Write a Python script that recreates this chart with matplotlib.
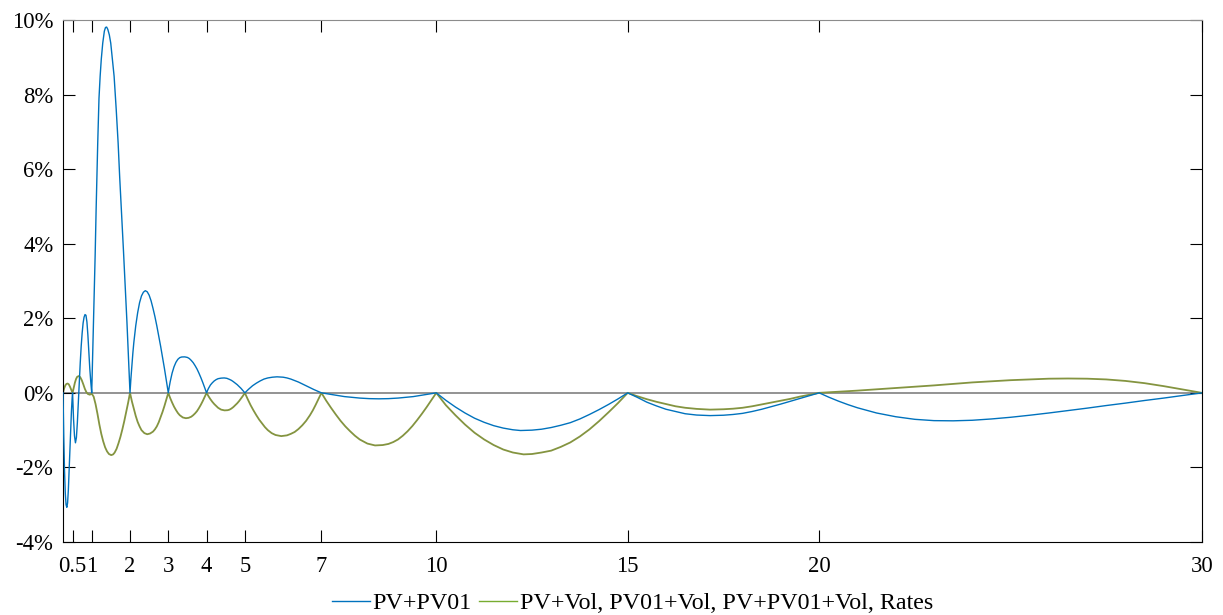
import numpy as np
import matplotlib
matplotlib.use("Agg")
import matplotlib.pyplot as plt
from matplotlib.lines import Line2D

# curve pillars (years) shown on the x axis
tick_years = [0.5, 1, 2, 3, 4, 5, 7, 10, 15, 20, 30]
tick_labels = ["0.5", "1", "2", "3", "4", "5", "7", "10", "15", "20", "30"]
pct_ticks = [-4, -2, 0, 2, 4, 6, 8, 10]
pct_labels = ["-4%", "-2%", "0%", "2%", "4%", "6%", "8%", "10%"]

# PV+PV01 error (%)
pv01_x = [0.25, 0.27, 0.29, 0.31, 0.33, 0.35, 0.37, 0.39, 0.41, 0.43, 0.45, 0.47, 0.49,
          0.5, 0.525, 0.55, 0.575, 0.6, 0.625, 0.65, 0.675, 0.7, 0.725, 0.75, 0.775, 0.8,
          0.825, 0.85, 0.875, 0.9, 0.925, 0.95, 0.975,
          1.0, 1.03, 1.05, 1.07, 1.09, 1.115, 1.157, 1.19, 1.22, 1.25, 1.288, 1.33, 1.36,
          1.39, 1.42, 1.46, 1.497, 1.54, 1.585, 1.64, 1.69, 1.73, 1.775, 1.83, 1.88, 1.92, 1.96,
          2.0, 2.025, 2.05, 2.075, 2.1, 2.15, 2.2, 2.25, 2.3, 2.35, 2.4, 2.45, 2.5, 2.55, 2.6,
          2.65, 2.7, 2.75, 2.8, 2.85, 2.9, 2.95,
          3.0, 3.025, 3.05, 3.075, 3.1, 3.15, 3.2, 3.25, 3.3, 3.35, 3.43, 3.5, 3.55, 3.6, 3.65,
          3.7, 3.75, 3.8, 3.85, 3.9, 3.95,
          4.0, 4.025, 4.05, 4.1, 4.15, 4.2, 4.25, 4.3, 4.38, 4.46, 4.53, 4.6, 4.65, 4.7, 4.75,
          4.8, 4.85, 4.9, 4.95,
          5.0, 5.05, 5.1, 5.2, 5.3, 5.4, 5.5, 5.6, 5.72, 5.84, 6.0, 6.1, 6.2, 6.3, 6.4, 6.5,
          6.6, 6.7, 6.8, 6.9,
          7.0, 7.15, 7.3, 7.45, 7.6, 7.8, 8.0, 8.25, 8.5, 8.75, 9.0, 9.2, 9.4, 9.55, 9.7, 9.85,
          10.0, 10.25, 10.5, 10.75, 11.0, 11.25, 11.5, 11.75, 12.0, 12.2, 12.5, 12.75, 13.0,
          13.25, 13.5, 13.75, 14.0, 14.25, 14.5, 14.75,
          15.0, 15.25, 15.5, 15.75, 16.0, 16.25, 16.5, 16.8, 17.15, 17.5, 17.75, 18.0, 18.25,
          18.5, 18.75, 19.0, 19.25, 19.5, 19.75,
          20.0, 20.25, 20.5, 20.75, 21.0, 21.5, 22.0, 22.5, 23.0, 23.5, 24.0, 24.5, 25.0, 25.5,
          26.0, 26.5, 27.0, 27.5, 28.0, 28.5, 29.0, 29.5, 30.0]
pv01_y = [0, -1.2, -2.1, -2.7, -3.0, -3.07, -2.95, -2.6, -2.1, -1.55, -1.0, -0.5, -0.12,
          0, -0.7, -1.15, -1.34, -1.2, -0.8, -0.25, 0.3, 0.8, 1.25, 1.6, 1.87, 2.03,
          2.1, 2.08, 1.9, 1.55, 1.1, 0.65, 0.3,
          0, 1.2, 2.0, 2.77, 3.7, 4.91, 6.7, 7.9, 8.49, 8.95, 9.38, 9.7, 9.8,
          9.81, 9.75, 9.6, 9.38, 8.95, 8.49, 7.6, 6.7, 5.8, 4.91, 3.8, 2.77, 1.9, 0.95,
          0, 0.4, 0.75, 1.07, 1.35, 1.8, 2.15, 2.42, 2.6, 2.7, 2.74, 2.71, 2.62, 2.47, 2.27,
          2.05, 1.8, 1.53, 1.25, 0.95, 0.65, 0.33,
          0, 0.16, 0.3, 0.42, 0.53, 0.7, 0.82, 0.9, 0.945, 0.962, 0.965, 0.95, 0.92, 0.87, 0.81,
          0.73, 0.64, 0.53, 0.41, 0.28, 0.14,
          0, 0.065, 0.12, 0.21, 0.27, 0.32, 0.355, 0.38, 0.395, 0.40, 0.39, 0.36, 0.335, 0.30,
          0.26, 0.22, 0.17, 0.12, 0.06,
          0, 0.05, 0.1, 0.19, 0.26, 0.32, 0.37, 0.40, 0.42, 0.43, 0.42, 0.40, 0.37, 0.33, 0.29,
          0.24, 0.19, 0.14, 0.09, 0.045,
          0, -0.025, -0.05, -0.075, -0.10, -0.12, -0.14, -0.155, -0.16, -0.155, -0.14, -0.12,
          -0.10, -0.075, -0.05, -0.025,
          0, -0.2, -0.38, -0.54, -0.68, -0.79, -0.88, -0.945, -0.99, -1.01, -1.0, -0.975, -0.93,
          -0.87, -0.8, -0.7, -0.58, -0.45, -0.31, -0.16,
          0, -0.12, -0.25, -0.35, -0.44, -0.5, -0.56, -0.595, -0.61, -0.6, -0.58, -0.55, -0.5,
          -0.44, -0.37, -0.3, -0.225, -0.15, -0.075,
          0, -0.115, -0.22, -0.315, -0.4, -0.54, -0.64, -0.71, -0.745, -0.75, -0.735, -0.7,
          -0.655, -0.6, -0.54, -0.475, -0.41, -0.34, -0.275, -0.205, -0.14, -0.07, 0]

# PV+Vol, PV01+Vol, PV+PV01+Vol, Rates error (%)
vol_x = [0.25, 0.28, 0.31, 0.34, 0.37, 0.4, 0.43, 0.46, 0.48,
         0.5, 0.53, 0.56, 0.59, 0.62, 0.66, 0.7, 0.74, 0.78, 0.82, 0.86, 0.9, 0.95, 0.98,
         1.0, 1.05, 1.1, 1.15, 1.2, 1.25, 1.3, 1.35, 1.4, 1.45, 1.51, 1.56, 1.6, 1.65, 1.7,
         1.75, 1.8, 1.85, 1.9, 1.95,
         2.0, 2.05, 2.1, 2.15, 2.2, 2.25, 2.3, 2.375, 2.45, 2.525, 2.6, 2.65, 2.7, 2.75, 2.8,
         2.85, 2.9, 2.95,
         3.0, 3.05, 3.1, 3.15, 3.2, 3.25, 3.3, 3.38, 3.46, 3.53, 3.6, 3.65, 3.7, 3.75, 3.8,
         3.85, 3.9, 3.95,
         4.0, 4.05, 4.1, 4.15, 4.2, 4.25, 4.3, 4.38, 4.47, 4.55, 4.6, 4.65, 4.7, 4.75, 4.8,
         4.85, 4.9, 4.95,
         5.0, 5.075, 5.15, 5.225, 5.3, 5.375, 5.45, 5.525, 5.6, 5.7, 5.8, 5.95, 6.1, 6.2, 6.3,
         6.4, 6.5, 6.6, 6.7, 6.775, 6.85, 6.925,
         7.0, 7.125, 7.25, 7.375, 7.5, 7.625, 7.75, 7.875, 8.0, 8.2, 8.4, 8.6, 8.75, 8.875,
         9.0, 9.125, 9.25, 9.375, 9.5, 9.625, 9.75, 9.875,
         10.0, 10.25, 10.5, 10.75, 11.0, 11.25, 11.5, 11.75, 12.0, 12.28, 12.5, 12.75, 13.0,
         13.25, 13.5, 13.75, 14.0, 14.25, 14.5, 14.75,
         15.0, 15.25, 15.5, 15.75, 16.0, 16.25, 16.5, 16.8, 17.15, 17.5, 17.75, 18.0, 18.25,
         18.5, 18.75, 19.0, 19.25, 19.5, 19.75,
         20.0, 20.5, 21.0, 21.5, 22.0, 22.5, 23.0, 23.5, 24.0, 24.5, 25.0, 25.5, 26.0, 26.5,
         27.0, 27.5, 28.0, 28.5, 29.0, 29.5, 30.0]
vol_y = [0, 0.12, 0.2, 0.24, 0.25, 0.23, 0.17, 0.1, 0.05,
         0, 0.14, 0.27, 0.37, 0.43, 0.45, 0.42, 0.34, 0.23, 0.11, 0.02, -0.03, -0.05, -0.03,
         -0.02, -0.1, -0.3, -0.56, -0.85, -1.1, -1.3, -1.46, -1.57, -1.64, -1.67, -1.65, -1.6,
         -1.5, -1.35, -1.18, -0.98, -0.76, -0.52, -0.27,
         0, -0.23, -0.43, -0.62, -0.78, -0.9, -1.0, -1.08, -1.11, -1.09, -1.04, -0.98, -0.9,
         -0.79, -0.65, -0.51, -0.35, -0.18,
         0, -0.14, -0.26, -0.37, -0.46, -0.54, -0.6, -0.66, -0.68, -0.67, -0.64, -0.6, -0.55,
         -0.49, -0.41, -0.32, -0.22, -0.11,
         0, -0.09, -0.17, -0.24, -0.3, -0.35, -0.4, -0.45, -0.47, -0.465, -0.45, -0.42, -0.38,
         -0.33, -0.28, -0.22, -0.15, -0.08,
         0, -0.17, -0.33, -0.47, -0.6, -0.72, -0.82, -0.92, -1.0, -1.08, -1.13, -1.16, -1.14,
         -1.1, -1.05, -0.97, -0.87, -0.75, -0.6, -0.47, -0.32, -0.16,
         0, -0.21, -0.4, -0.58, -0.75, -0.9, -1.03, -1.15, -1.25, -1.36, -1.41, -1.4, -1.37,
         -1.32, -1.25, -1.15, -1.03, -0.89, -0.73, -0.56, -0.38, -0.19,
         0, -0.33, -0.6, -0.85, -1.07, -1.25, -1.4, -1.52, -1.6, -1.65, -1.64, -1.6, -1.55,
         -1.45, -1.33, -1.17, -0.98, -0.76, -0.52, -0.27,
         0, -0.09, -0.17, -0.24, -0.3, -0.36, -0.4, -0.43, -0.45, -0.44, -0.425, -0.4, -0.36,
         -0.31, -0.26, -0.21, -0.16, -0.1, -0.05,
         0, 0.03, 0.06, 0.095, 0.13, 0.165, 0.2, 0.24, 0.28, 0.31, 0.34, 0.36, 0.38, 0.385,
         0.38, 0.36, 0.32, 0.26, 0.18, 0.09, 0]

blue = "#0072BD"
olive = "#849440"
green = "#77AC30"

plt.rcParams["font.family"] = ["Liberation Serif", "DejaVu Serif"]

fig = plt.figure(figsize=(12.23, 6.15), dpi=100)
ax = fig.add_axes([63 / 1223, 1 - 542 / 615, (1202 - 63) / 1223, (542 - 20) / 615])

ax.axhline(0, color="0.5", lw=1.2, zorder=1)
ax.plot(pv01_x, pv01_y, color=blue, lw=1.0, solid_joinstyle="round", zorder=3)
ax.plot(vol_x, vol_y, color=olive, lw=1.3, solid_joinstyle="round", zorder=2)

ax.set_xlim(0.25, 30)
ax.set_ylim(-4, 10)
ax.set_xticks(tick_years)
ax.set_xticklabels(tick_labels)
ax.set_yticks(pct_ticks)
ax.set_yticklabels(pct_labels)
ax.tick_params(direction="in", top=True, right=True, length=8.6, width=0.8,
               labelsize=16.3, colors="black")
ax.tick_params(axis="x", pad=10)
ax.tick_params(axis="y", pad=7)
for side in ["left", "right", "bottom"]:
    ax.spines[side].set_linewidth(0.8)
ax.spines["top"].set_color("0.55")
ax.spines["top"].set_linewidth(0.8)

handles = [Line2D([], [], color=blue, lw=1.0),
           Line2D([], [], color=green, lw=1.0)]
fig.legend(handles, ["PV+PV01", "PV+Vol, PV01+Vol, PV+PV01+Vol, Rates"],
           loc="center", bbox_to_anchor=(632.5 / 1223, 1 - 603 / 615),
           ncol=2, frameon=False, fontsize=17.3, handlelength=1.6,
           handletextpad=0.1, columnspacing=0.3, borderpad=0, borderaxespad=0)

fig.savefig("out.png", dpi=100)
